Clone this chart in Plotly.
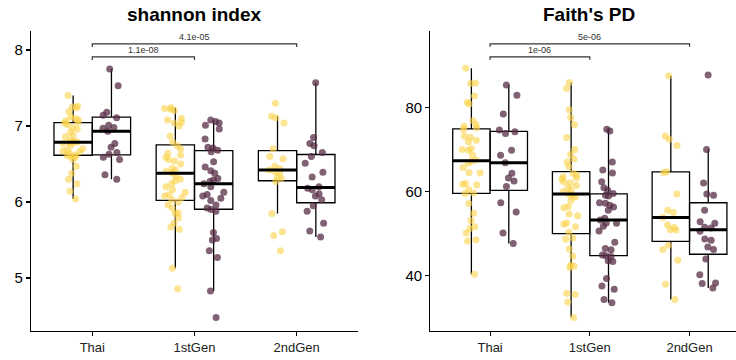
import numpy as np
import plotly.graph_objects as go

categories = ["Thai", "1stGen", "2ndGen"]

# Shannon index – group A (yellow) and group B (purple)
shannon_a_thai = [6.04, 6.14, 6.24, 6.30, 6.38, 6.47, 6.56, 6.59, 6.60, 6.61,
                  6.62, 6.64, 6.66, 6.67, 6.68, 6.70, 6.74, 6.77, 6.78, 6.78,
                  6.79, 6.80, 6.81, 6.86, 6.88, 6.92, 6.96, 6.98, 7.02, 7.04,
                  7.05, 7.07, 7.08, 7.10, 7.12, 7.19, 7.24, 7.25, 7.26, 7.40]
shannon_b_thai = [6.30, 6.36, 6.56, 6.59, 6.63, 6.65, 6.72, 6.77, 6.93, 6.97,
                  6.98, 7.01, 7.11, 7.14, 7.18, 7.53, 7.75]
shannon_a_1st = [4.86, 5.13, 5.64, 5.67, 5.72, 5.79, 5.85, 5.86, 5.92, 5.96,
                 6.00, 6.03, 6.06, 6.08, 6.10, 6.13, 6.16, 6.20, 6.24, 6.28,
                 6.30, 6.34, 6.38, 6.40, 6.42, 6.44, 6.50, 6.54, 6.56, 6.59,
                 6.62, 6.64, 6.70, 6.74, 6.79, 6.87, 7.00, 7.04, 7.05, 7.08,
                 7.10, 7.20, 7.22, 7.23, 7.24]
shannon_b_1st = [4.48, 4.83, 5.27, 5.36, 5.50, 5.52, 5.60, 5.88, 5.90, 5.92,
                 5.96, 6.02, 6.05, 6.08, 6.10, 6.13, 6.20, 6.24, 6.27, 6.29,
                 6.31, 6.38, 6.41, 6.46, 6.53, 6.66, 6.68, 6.71, 6.72, 6.83,
                 6.96, 7.01, 7.04, 7.06, 7.08]
shannon_a_2nd = [5.36, 5.56, 5.61, 5.85, 6.27, 6.31, 6.33, 6.38, 6.40, 6.42,
                 6.44, 6.47, 6.57, 6.60, 6.70, 7.04, 7.11, 7.13, 7.30]
shannon_b_2nd = [5.54, 5.62, 5.72, 5.88, 5.95, 6.03, 6.08, 6.11, 6.16, 6.18,
                 6.20, 6.33, 6.39, 6.51, 6.60, 6.65, 6.74, 6.77, 6.85, 7.57]

# Faith's PD – group A (yellow) and group B (purple)
faith_a_thai = [40.4, 48.3, 48.6, 50.2, 51.3, 51.7, 53.2, 54.9, 57.2, 59.6,
                59.7, 60.5, 61.6, 61.8, 62.0, 64.5, 64.6, 65.8, 66.8, 67.2,
                67.6, 68.7, 69.9, 70.1, 70.3, 71.9, 72.3, 73.0, 73.2, 74.8,
                75.2, 75.6, 76.0, 76.9, 80.9, 81.3, 82.8, 85.8, 85.9, 89.4]
faith_b_thai = [47.7, 50.2, 55.2, 57.4, 61.3, 62.6, 63.3, 64.4, 66.9, 68.7,
                69.9, 73.9, 74.3, 74.7, 78.5, 83.0, 85.4]
faith_a_1st = [30.1, 33.8, 35.6, 35.9, 42.0, 42.3, 42.6, 44.7, 46.4, 48.7,
               49.0, 50.4, 51.7, 52.3, 52.6, 54.3, 54.7, 56.2, 56.5, 58.0,
               58.8, 59.2, 59.5, 60.0, 60.4, 61.0, 61.5, 62.1, 62.4, 63.0,
               63.3, 63.6, 64.0, 64.4, 66.0, 67.1, 67.8, 68.9, 70.1, 72.9,
               76.0, 77.7, 79.5, 84.6, 86.0]
faith_b_1st = [33.6, 34.4, 36.8, 37.6, 39.4, 43.4, 43.6, 44.6, 44.8, 45.0,
               46.2, 46.5, 48.0, 50.7, 51.8, 52.5, 52.6, 53.3, 53.7, 55.6,
               56.4, 56.8, 57.3, 57.4, 59.0, 59.2, 59.6, 60.4, 61.0, 62.4,
               64.5, 65.2, 67.1, 74.5, 74.9]
faith_a_2nd = [34.4, 38.0, 43.7, 46.3, 47.3, 50.9, 51.0, 51.5, 52.1, 53.9,
               55.1, 55.6, 59.5, 64.6, 64.8, 71.0, 72.5, 73.3, 87.6]
faith_b_2nd = [37.1, 38.2, 38.3, 40.3, 44.0, 46.3, 46.9, 48.5, 48.8, 50.6,
               51.4, 51.6, 52.5, 52.9, 55.6, 59.2, 59.5, 62.1, 70.1, 87.8]

panel_titles = ["shannon index", "Faith's PD"]
bracket_pairs = [(0, 1), (0, 2)]
pvalues_shannon = ["1.1e-08", "4.1e-05"]
pvalues_faith = ["1e-06", "5e-06"]
bracket_y_shannon = [7.91, 8.08]
bracket_y_faith = [92.1, 95.2]

YELLOW = "rgba(250,210,70,0.6)"
PURPLE = "rgba(85,45,70,0.75)"
HALF = 0.1875
FONT = "Liberation Sans, Arial, Helvetica, sans-serif"

fig = go.Figure()


def add_panel(series_a, series_b, xr, yr, bracket_y, labels, drop):
    for i in range(len(categories)):
        for vals, color, off in ((series_a[i], YELLOW, -HALF), (series_b[i], PURPLE, HALF)):
            pos = i + off
            fig.add_trace(go.Box(
                y=vals, x0=pos, width=2 * HALF, boxpoints="all", jitter=0.6,
                pointpos=0, marker=dict(color=color, size=7),
                line=dict(color="black", width=1.3), fillcolor="rgba(0,0,0,0)",
                whiskerwidth=0, xaxis=xr, yaxis=yr, showlegend=False,
                hoverinfo="skip"))
            med = float(np.median(vals))
            fig.add_trace(go.Scatter(
                x=[pos - HALF, pos + HALF], y=[med, med], mode="lines",
                line=dict(color="black", width=3), xaxis=xr, yaxis=yr,
                showlegend=False, hoverinfo="skip"))
    for (a, b), h, lab in zip(bracket_pairs, bracket_y, labels):
        fig.add_trace(go.Scatter(
            x=[a, a, b, b], y=[h - drop, h, h, h - drop], mode="lines",
            line=dict(color="#333333", width=1.2), xaxis=xr, yaxis=yr,
            showlegend=False, hoverinfo="skip"))
        fig.add_annotation(x=(a + b) / 2, y=h, xref=xr, yref=yr, text=lab,
                           showarrow=False, yanchor="bottom", yshift=0,
                           font=dict(size=9, color="#333333", family=FONT))


add_panel([shannon_a_thai, shannon_a_1st, shannon_a_2nd],
          [shannon_b_thai, shannon_b_1st, shannon_b_2nd],
          "x", "y", bracket_y_shannon, pvalues_shannon, 0.04)
add_panel([faith_a_thai, faith_a_1st, faith_a_2nd],
          [faith_b_thai, faith_b_1st, faith_b_2nd],
          "x2", "y2", bracket_y_faith, pvalues_faith, 0.7)

axis_common = dict(showline=True, linecolor="black", linewidth=1.1,
                   ticks="outside", ticklen=4, tickcolor="black", tickwidth=1.1,
                   showgrid=False, zeroline=False, automargin=False)

fig.update_layout(
    width=736, height=360, margin=dict(l=0, r=0, t=0, b=0),
    paper_bgcolor="white", plot_bgcolor="white", boxmode="overlay",
    showlegend=False, font=dict(family=FONT, color="black"),
    xaxis=dict(domain=[0.0421, 0.4864], range=[-0.6, 2.6], tickvals=[0, 1, 2],
               ticktext=categories, tickfont=dict(size=13, color="#222222"),
               anchor="y", **axis_common),
    yaxis=dict(domain=[0.0806, 0.9147], range=[4.303, 8.254],
               tickvals=[5, 6, 7, 8], tickfont=dict(size=15, color="black"),
               anchor="x", **axis_common),
    xaxis2=dict(domain=[0.5846, 1.0], range=[-0.6, 2.466], tickvals=[0, 1, 2],
                ticktext=categories, tickfont=dict(size=13, color="#222222"),
                anchor="y2", **axis_common),
    yaxis2=dict(domain=[0.0806, 0.9147], range=[26.9, 98.33],
                tickvals=[40, 60, 80], tickfont=dict(size=15, color="black"),
                anchor="x2", **axis_common),
)

for title, xc in zip(panel_titles, [0.2643, 0.8003]):
    fig.add_annotation(x=xc, y=1 - 15 / 360, xref="paper", yref="paper",
                       text="<b>" + title + "</b>", showarrow=False,
                       xanchor="center", yanchor="middle",
                       font=dict(size=19, color="black", family=FONT))

fig.write_html("out.html",
               config={"displayModeBar": False, "staticPlot": True},
               post_script="document.body.style.margin='0';"
                           "document.body.style.overflow='hidden';")
